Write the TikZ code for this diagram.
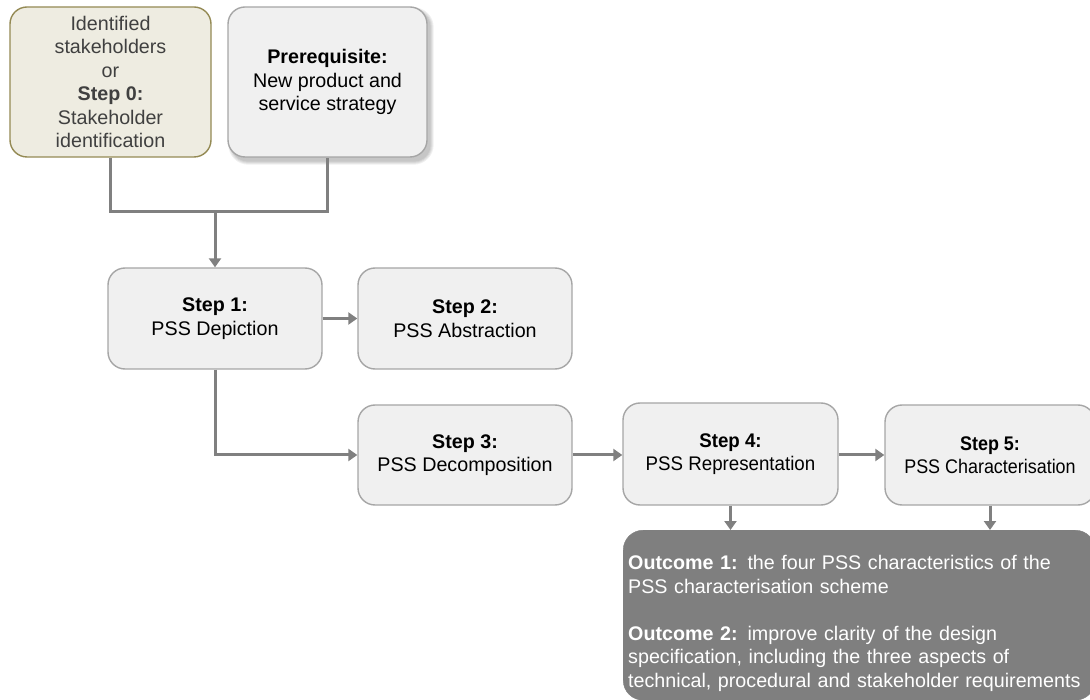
\documentclass[tikz,border=0pt]{standalone}
\usepackage{fontspec}
\setmainfont{Liberation Sans}
\newfontfamily\narrowA[FakeStretch=0.95]{Liberation Sans}
\newfontfamily\narrowB[FakeStretch=0.91]{Liberation Sans}
\usetikzlibrary{arrows.meta,backgrounds}

\definecolor{boxfill}{HTML}{F0F0F0}
\definecolor{boxline}{HTML}{A6A6A6}
\definecolor{tanfill}{HTML}{EEECE1}
\definecolor{tanline}{HTML}{948A54}
\definecolor{linkgray}{HTML}{808080}
\definecolor{outfill}{HTML}{7F7F7F}
\definecolor{stakefont}{HTML}{404040}

\begin{document}
\begin{tikzpicture}[x=1pt,y=-1pt,
  every node/.style={font=\fontsize{19.7}{23.5}\selectfont},
  stepbox/.style={draw=boxline, fill=boxfill, line width=1.4pt,
    rounded corners=17pt, align=center, inner sep=0pt},
  tanbox/.style={stepbox, draw=tanline, fill=tanfill, text=stakefont},
  outbox/.style={fill=outfill, draw=outfill, rounded corners=20pt,
    text=white, align=left, inner xsep=5pt, inner ysep=0pt},
  link/.style={draw=linkgray, line width=3pt},
  arr/.style={link, -{Triangle[width=12pt,length=9pt]}}]

\useasboundingbox (0,0) rectangle (1090,700);

% inputs
\node[tanbox, minimum width=201, minimum height=150] (s0) at (110.5,82)
  {Identified\\stakeholders\\or\\\textbf{Step 0:}\\Stakeholder\\identification};
\node[stepbox, minimum width=199, minimum height=150] (pre) at (327.5,82)
  {\textbf{Prerequisite:}\\New product and\\service strategy};

% white page and a soft shadow under the prerequisite box
\begin{scope}[on background layer]
  \fill[white] (0,0) rectangle (1090,700);
  \foreach \g in {0,1,2,3}
    \fill[black, opacity=0.06, rounded corners=17pt+\g pt]
      ([xshift=4pt-\g pt, yshift=-4pt+\g pt]pre.north west)
      rectangle ([xshift=3pt+\g pt, yshift=-4pt-\g pt]pre.south east);
\end{scope}

% steps
\node[stepbox, minimum width=214, minimum height=101] (s1) at (215,318.5)
  {\textbf{Step 1:}\\PSS Depiction};
\node[stepbox, minimum width=214, minimum height=101] (s2) at (465,318.5)
  {\textbf{Step 2:}\\PSS Abstraction};
\node[stepbox, minimum width=214, minimum height=100] (s3) at (465,455)
  {\textbf{Step 3:}\\PSS Decomposition};
\node[stepbox, minimum width=215, minimum height=102] (s4) at (730.5,454)
  {\narrowA\textbf{Step 4:}\\\narrowA PSS Representation};
\node[stepbox, minimum width=210, minimum height=100] (s5) at (990,455)
  {\narrowB\textbf{Step 5:}\\\narrowB PSS Characterisation};

% outcomes
\node[outbox, anchor=north west, text width=462pt, minimum height=170]
  (out) at (623,530)
  {\rule{0pt}{31pt}\textbf{Outcome 1:} the four PSS characteristics of the\\
   PSS characterisation scheme\\[23.5pt]
   \textbf{Outcome 2:} improve clarity of the design\\
   specification, including the three aspects of\\
   technical, procedural and stakeholder requirements};

% connectors
\coordinate (j) at (215,212);
\draw[link] (s0.south) |- (j) -| (pre.south);
\draw[arr] (j) -- (s1.north);
\draw[arr] (s1.east) -- (s2.west);
\draw[arr] (s1.south) |- (s3.west);
\draw[arr] (s3.east) -- (s3.east -| s4.west);
\draw[arr] (s3.east -| s4.east) -- (s5.west);
\draw[arr] (s4.south) -- (s4.south |- out.north);
\draw[arr] (s5.south) -- (s5.south |- out.north);
\end{tikzpicture}
\end{document}
